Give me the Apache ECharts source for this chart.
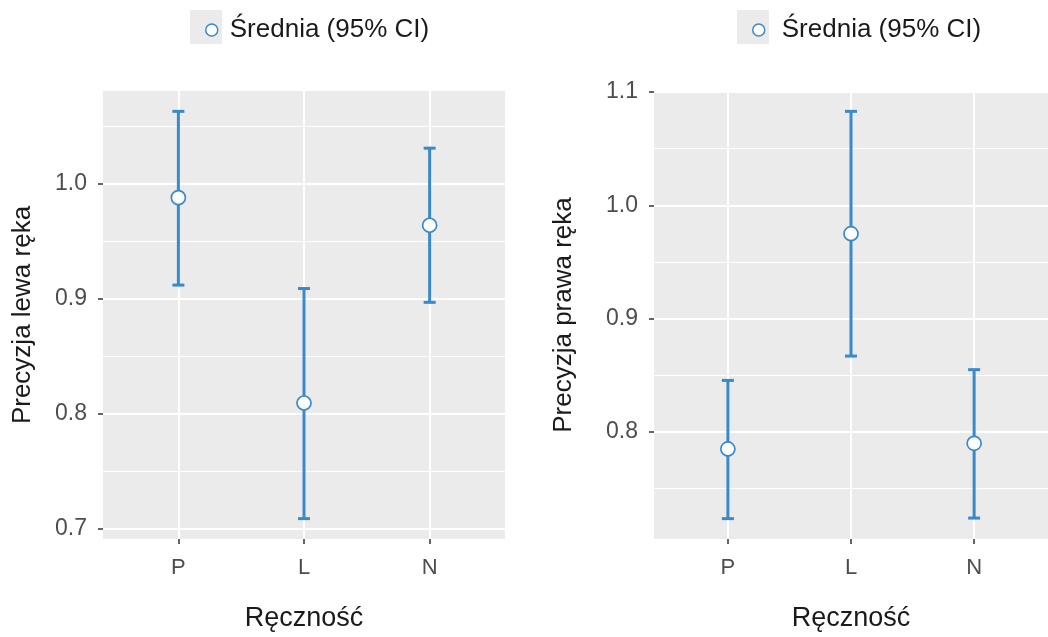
<!DOCTYPE html>
<html>
<head>
<meta charset="utf-8">
<script src="https://cdn.jsdelivr.net/npm/echarts@6/dist/echarts.min.js"></script>
<style>
  html, body { margin: 0; padding: 0; background: #ffffff; }
  #chart { width: 1048px; height: 637px; }
</style>
</head>
<body>
<div id="chart"></div>
<script>
// ---- data ----
const categories = ['P', 'L', 'N'];
const seriesName = 'Średnia (95% CI)';
const xTitle = 'Ręczność';

const leftTitle = 'Precyzja lewa ręka';
const leftMean  = [0.988, 0.8095, 0.964];
const leftLower = [0.912, 0.709, 0.897];
const leftUpper = [1.063, 0.909, 1.031];
const leftTicks = [0.7, 0.8, 0.9, 1.0];

const rightTitle = 'Precyzja prawa ręka';
const rightMean  = [0.785, 0.975, 0.790];
const rightLower = [0.7235, 0.867, 0.724];
const rightUpper = [0.8455, 1.083, 0.855];
const rightTicks = [0.8, 0.9, 1.0, 1.1];

// ---- styling ----
const BLUE = '#3a89c9';
const PANEL = '#ebebeb';
const FONT = '"Liberation Sans", Arial, Helvetica, sans-serif';

function extent(lo, hi) {
  const a = Math.min(...lo), b = Math.max(...hi);
  const r = b - a;
  return [a - 0.05 * r, b + 0.05 * r];
}
function minorOf(ticks, ext) {
  const step = ticks[1] - ticks[0];
  const out = [];
  for (let i = -1; i < ticks.length; i++) {
    const v = +(ticks[0] + (i + 0.5) * step).toFixed(4);
    if (v > ext[0] && v < ext[1]) out.push(v);
  }
  return out;
}

const extL = extent(leftLower, leftUpper);
const extR = extent(rightLower, rightUpper);
const xIdx = categories.map((c, i) => i + 1);

function gridLines(ticks, ext) {
  const data = [];
  minorOf(ticks, ext).forEach(v => data.push({ yAxis: v, lineStyle: { width: 1 } }));
  ticks.forEach(v => { if (v >= ext[0] - 1e-9 && v <= ext[1] + 1e-9) data.push({ yAxis: v, lineStyle: { width: 2 } }); });
  xIdx.forEach(v => data.push({ xAxis: v, lineStyle: { width: 2 } }));
  return data;
}

function xAxisCfg(gi) {
  return {
    type: 'value', gridIndex: gi, min: 0.4, max: 3.6,
    name: xTitle, nameLocation: 'middle', nameGap: 66,
    nameTextStyle: { fontFamily: FONT, fontSize: 27, color: '#1a1a1a' },
    axisLine: { show: false },
    axisTick: { show: true, length: 5, customValues: xIdx, lineStyle: { color: '#333', width: 1.5 } },
    axisLabel: { customValues: xIdx, margin: 18, fontFamily: FONT, fontSize: 22, color: '#4d4d4d',
      formatter: v => categories[Math.round(v) - 1] || '' },
    splitLine: { show: false }
  };
}
function yAxisCfg(gi, ticks, ext, title, gap) {
  return {
    type: 'value', gridIndex: gi, min: ext[0], max: ext[1],
    name: title, nameLocation: 'middle', nameGap: gap, nameRotate: 90,
    nameTextStyle: { fontFamily: FONT, fontSize: 26, color: '#1a1a1a' },
    axisLine: { show: false },
    axisTick: { show: true, length: 5, customValues: ticks, lineStyle: { color: '#333', width: 1.5 } },
    axisLabel: { customValues: ticks, margin: 16, fontFamily: FONT, fontSize: 23, color: '#4d4d4d',
      formatter: v => v.toFixed(1) },
    splitLine: { show: false }
  };
}

function errRender(params, api) {
  const x = api.value(0);
  const top = api.coord([x, api.value(2)]);
  const bot = api.coord([x, api.value(1)]);
  const cap = 6;
  const st = { stroke: BLUE, lineWidth: 3, fill: null };
  return {
    type: 'group',
    children: [
      { type: 'line', shape: { x1: top[0], y1: top[1], x2: bot[0], y2: bot[1] }, style: st },
      { type: 'line', shape: { x1: top[0] - cap, y1: top[1], x2: top[0] + cap, y2: top[1] }, style: st },
      { type: 'line', shape: { x1: bot[0] - cap, y1: bot[1], x2: bot[0] + cap, y2: bot[1] }, style: st }
    ]
  };
}

function panelSeries(gi, mean, lo, hi, ticks, ext) {
  return [
    {
      type: 'line', xAxisIndex: gi, yAxisIndex: gi, data: [], silent: true, z: 1,
      markLine: {
        silent: true, z: 1, symbol: ['none', 'none'], label: { show: false },
        lineStyle: { color: '#ffffff', type: 'solid' },
        animation: false,
        data: gridLines(ticks, ext)
      }
    },
    {
      type: 'custom', xAxisIndex: gi, yAxisIndex: gi, z: 6,
      renderItem: errRender,
      data: xIdx.map((x, i) => [x, lo[i], hi[i]])
    },
    {
      type: 'scatter', name: seriesName, xAxisIndex: gi, yAxisIndex: gi, z: 7,
      symbol: 'circle', symbolSize: 14,
      itemStyle: { color: '#ffffff', borderColor: BLUE, borderWidth: 1.7, opacity: 1 },
      data: xIdx.map((x, i) => [x, mean[i]])
    }
  ];
}

const legendCommon = {
  data: [seriesName], icon: 'circle', itemWidth: 12, itemHeight: 12, selectedMode: false,
  itemStyle: { color: '#ffffff', borderColor: BLUE, borderWidth: 1.5 },
  textStyle: { fontFamily: FONT, fontSize: 26, color: '#1a1a1a' }
};

const chart = echarts.init(document.getElementById('chart'), null, { renderer: 'canvas' });
chart.setOption({
  animation: false,
  backgroundColor: '#ffffff',
  graphic: [
    { type: 'rect', z: 0, shape: { x: 190, y: 10, width: 32, height: 34 }, style: { fill: PANEL } },
    { type: 'rect', z: 0, shape: { x: 737, y: 10, width: 32, height: 34 }, style: { fill: PANEL } }
  ],
  legend: [
    Object.assign({}, legendCommon, { left: 200, top: 12, textStyle: Object.assign({}, legendCommon.textStyle, { padding: [0, 0, 0, 7] }) }),
    Object.assign({}, legendCommon, { left: 747, top: 12, textStyle: Object.assign({}, legendCommon.textStyle, { padding: [0, 0, 0, 12] }) })
  ],
  grid: [
    { left: 103, top: 91, width: 402, height: 449, show: true, backgroundColor: PANEL, borderWidth: 0 },
    { left: 654, top: 91, width: 402, height: 448, show: true, backgroundColor: PANEL, borderWidth: 0 }
  ],
  xAxis: [xAxisCfg(0), xAxisCfg(1)],
  yAxis: [yAxisCfg(0, leftTicks, extL, leftTitle, 67), yAxisCfg(1, rightTicks, extR, rightTitle, 77)],
  series: [].concat(
    panelSeries(0, leftMean, leftLower, leftUpper, leftTicks, extL),
    panelSeries(1, rightMean, rightLower, rightUpper, rightTicks, extR)
  )
});
</script>
</body>
</html>
